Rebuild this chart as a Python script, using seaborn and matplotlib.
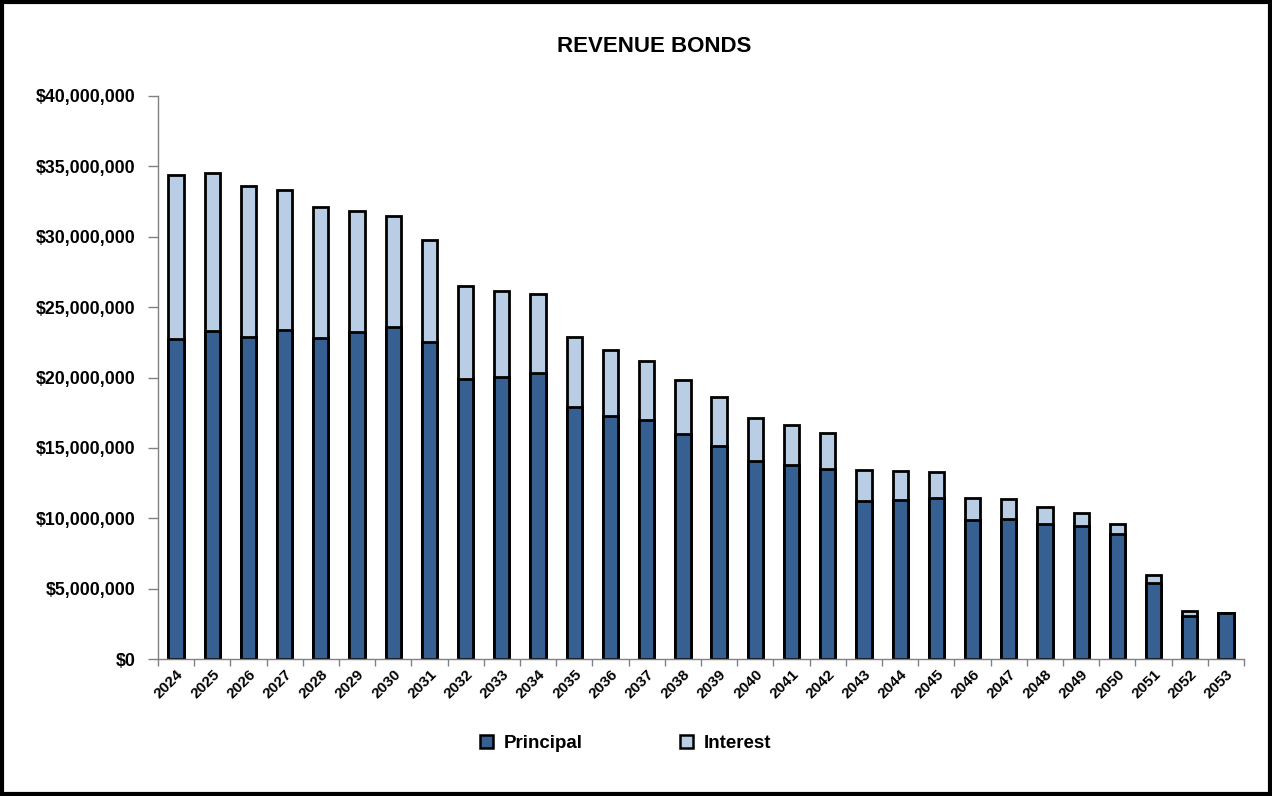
import matplotlib
matplotlib.use("Agg")
import matplotlib.pyplot as plt
from matplotlib.patches import Patch, Rectangle
from matplotlib.ticker import FuncFormatter, FixedLocator
import seaborn as sns
import pandas as pd

# Annual debt service on the revenue bonds
years = [str(y) for y in range(2024, 2054)]
principal = [22.7, 23.3, 22.9, 23.4, 22.8, 23.2, 23.6, 22.5, 19.9, 20.05,
             20.3, 17.9, 17.3, 17.0, 16.0, 15.15, 14.06, 13.78, 13.52, 11.24,
             11.3, 11.46, 9.87, 9.97, 9.61, 9.42, 8.88, 5.42, 3.08, 3.24]
interest = [11.7, 11.2, 10.7, 9.9, 9.3, 8.6, 7.9, 7.26, 6.6, 6.11,
            5.6, 5.0, 4.65, 4.2, 3.8, 3.45, 3.04, 2.82, 2.51, 2.18,
            2.05, 1.82, 1.56, 1.39, 1.19, 0.97, 0.73, 0.55, 0.31, 0.0]
principal = [v * 1e6 for v in principal]
interest = [v * 1e6 for v in interest]

dark_blue = "#376092"
light_blue = "#B9CDE5"

df = pd.DataFrame({"year": years, "principal": principal, "interest": interest})
df["total"] = df["principal"] + df["interest"]

sns.set_theme(style="white")
plt.rcParams["font.family"] = ["Liberation Sans", "DejaVu Sans"]
plt.rcParams["font.weight"] = "bold"
plt.rcParams["text.color"] = "black"
plt.rcParams["xtick.labelcolor"] = "black"
plt.rcParams["ytick.labelcolor"] = "black"

fig = plt.figure(figsize=(12.72, 7.96), dpi=100)
ax = fig.add_axes([0.1242, 0.1721, 0.978 - 0.1242, 0.8794 - 0.1721])

bar_kw = dict(width=0.42, edgecolor="black", linewidth=2.0, saturation=1, ax=ax)
# Stacked look: full height in the interest colour, principal drawn over it
sns.barplot(data=df, x="year", y="total", color=light_blue, **bar_kw)
sns.barplot(data=df, x="year", y="principal", color=dark_blue, **bar_kw)

ax.set_xlim(-0.5, len(years) - 0.5)
ax.set_ylim(0, 40e6)
ax.set_yticks([i * 5e6 for i in range(9)])
ax.yaxis.set_major_formatter(FuncFormatter(lambda v, p: f"${v:,.0f}"))
ax.set_xlabel("")
ax.set_ylabel("")

for side in ("top", "right"):
    ax.spines[side].set_visible(False)
for side in ("left", "bottom"):
    ax.spines[side].set_color("#808080")
    ax.spines[side].set_linewidth(1.0)

ax.tick_params(axis="y", which="major", direction="out", length=7, width=1,
               color="#808080", labelsize=12.8, pad=9, left=True, labelcolor="black")
ax.tick_params(axis="x", which="major", length=0, labelsize=11, pad=6, labelcolor="black")
ax.xaxis.set_minor_locator(FixedLocator([i - 0.5 for i in range(len(years) + 1)]))
ax.tick_params(axis="x", which="minor", direction="out", length=5, width=1,
               color="#808080", bottom=True)
for lbl in ax.get_xticklabels():
    lbl.set_rotation(45)
    lbl.set_ha("right")
    lbl.set_rotation_mode("anchor")
    lbl.set_fontweight("bold")
for lbl in ax.get_yticklabels():
    lbl.set_fontweight("bold")

fig.text(0.514, 0.941, "REVENUE BONDS", ha="center", va="center",
         fontsize=16, fontweight="bold", color="black")

handles = [Patch(facecolor=dark_blue, edgecolor="black", linewidth=1.8, label="Principal"),
           Patch(facecolor=light_blue, edgecolor="black", linewidth=1.8, label="Interest")]
fig.legend(handles=handles, loc="center", bbox_to_anchor=(0.492, 0.066), ncol=2,
           frameon=False, handlelength=0.65, handleheight=0.65,
           handletextpad=0.6, columnspacing=5.2, prop={"weight": "bold", "size": 13.5})

fig.patches.append(Rectangle((0.0015, 0.002), 0.997, 0.996, transform=fig.transFigure,
                             fill=False, edgecolor="black", linewidth=3))

fig.savefig("out.png", dpi=100)
